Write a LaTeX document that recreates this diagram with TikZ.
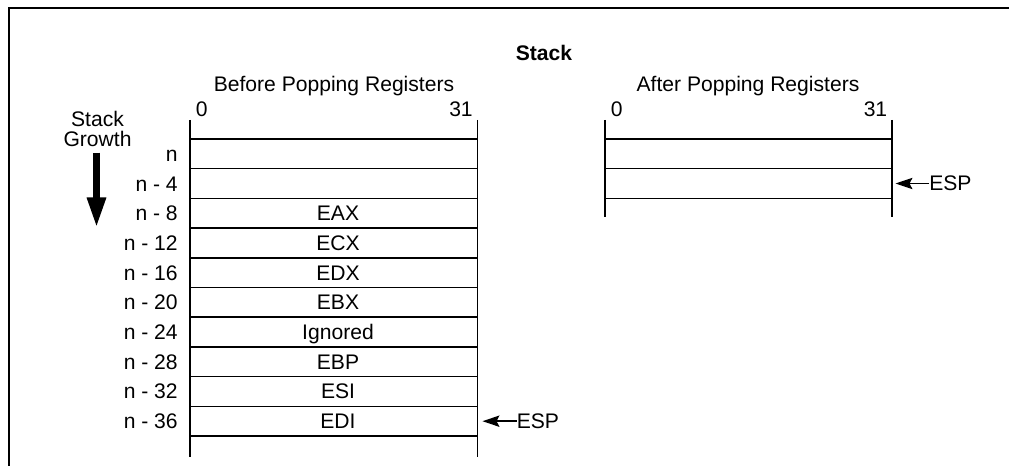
\documentclass[tikz,border=0pt]{standalone}
\usepackage{fontspec}
\setmainfont{Liberation Sans}
\usetikzlibrary{arrows.meta}

\begin{document}
\begin{tikzpicture}[x=0.025cm, y=-0.025cm,
    every node/.style={inner sep=0pt, font=\fontsize{15}{18}\selectfont},
    rowline/.style={line width=1.1pt},
    frameline/.style={line width=1.6pt},
    esparrow/.style={line width=1.1pt, -{Stealth[length=12pt, width=8pt, inset=2pt]}},
    growarrow/.style={line width=4.3pt, -{Triangle[length=21pt, width=12.8pt]}}]

    % Canvas
    \useasboundingbox (0,0) rectangle (1009,466);

    % Frame, top and left side only
    \draw[frameline] (9,466) -- (9,8) -- (1009,8);

    % Title
    \node[anchor=base, font=\fontsize{15}{18}\selectfont\bfseries] (title) at (544,60.5) {Stack};

    % Headings
    \node[anchor=base] (before) at (334,92) {Before Popping Registers};
    \node[anchor=base] (after) at (748,92) {After Popping Registers};

    % Bit numbers
    \node[anchor=base west] (bitL0) at (195.5,117) {0};
    \node[anchor=base east] (bitL31) at (473,117) {31};
    \node[anchor=base west] (bitR0) at (610.5,117) {0};
    \node[anchor=base east] (bitR31) at (887.5,117) {31};

    % Stack growth
    \node[anchor=base] (stack) at (97.5,126.5) {Stack};
    \node[anchor=base] (growth) at (97.5,147) {Growth};
    \coordinate (growtip) at (96.5,227);
    \draw[growarrow, shorten <=3.6pt] (growth.south -| growtip) -- (growtip);

    % Stack before popping
    \draw[rowline] (190,120) -- (190,457);
    \draw[rowline] (477.5,120) -- (477.5,457);
    \foreach \i in {0,...,10}{
        \draw[rowline] (190,139+29.7*\i) -- (477.5,139+29.7*\i);
    }

    % Row addresses
    \foreach \lab [count=\i from 0] in {n, n - 4, n - 8, n - 12, n - 16,
                                      n - 20, n - 24, n - 28, n - 32, n - 36}{
        \node[anchor=base east] (addr\i) at (178,161.35+29.7*\i) {\lab};
    }

    % Saved registers
    \foreach \reg [count=\i from 2] in {EAX, ECX, EDX, EBX, Ignored, EBP, ESI, EDI}{
        \node[anchor=base] (reg\i) at (338,161.35+29.7*\i) {\reg};
    }

    % Stack after popping
    \draw[rowline] (605,120) -- (605,217);
    \draw[rowline] (892,120) -- (892,217);
    \foreach \i in {0,...,2}{
        \draw[rowline] (605,139+29.7*\i) -- (892,139+29.7*\i);
    }

    % Stack pointers
    \node[anchor=west] (espL) at (516.5,421.2) {ESP};
    \coordinate (espLtip) at (482.5,421.2);
    \draw[esparrow] (espL.west) -- (espLtip);

    \node[anchor=west] (espR) at (929,183.5) {ESP};
    \coordinate (espRtip) at (895.5,183.5);
    \draw[esparrow] (espR.west) -- (espRtip);

\end{tikzpicture}
\end{document}
